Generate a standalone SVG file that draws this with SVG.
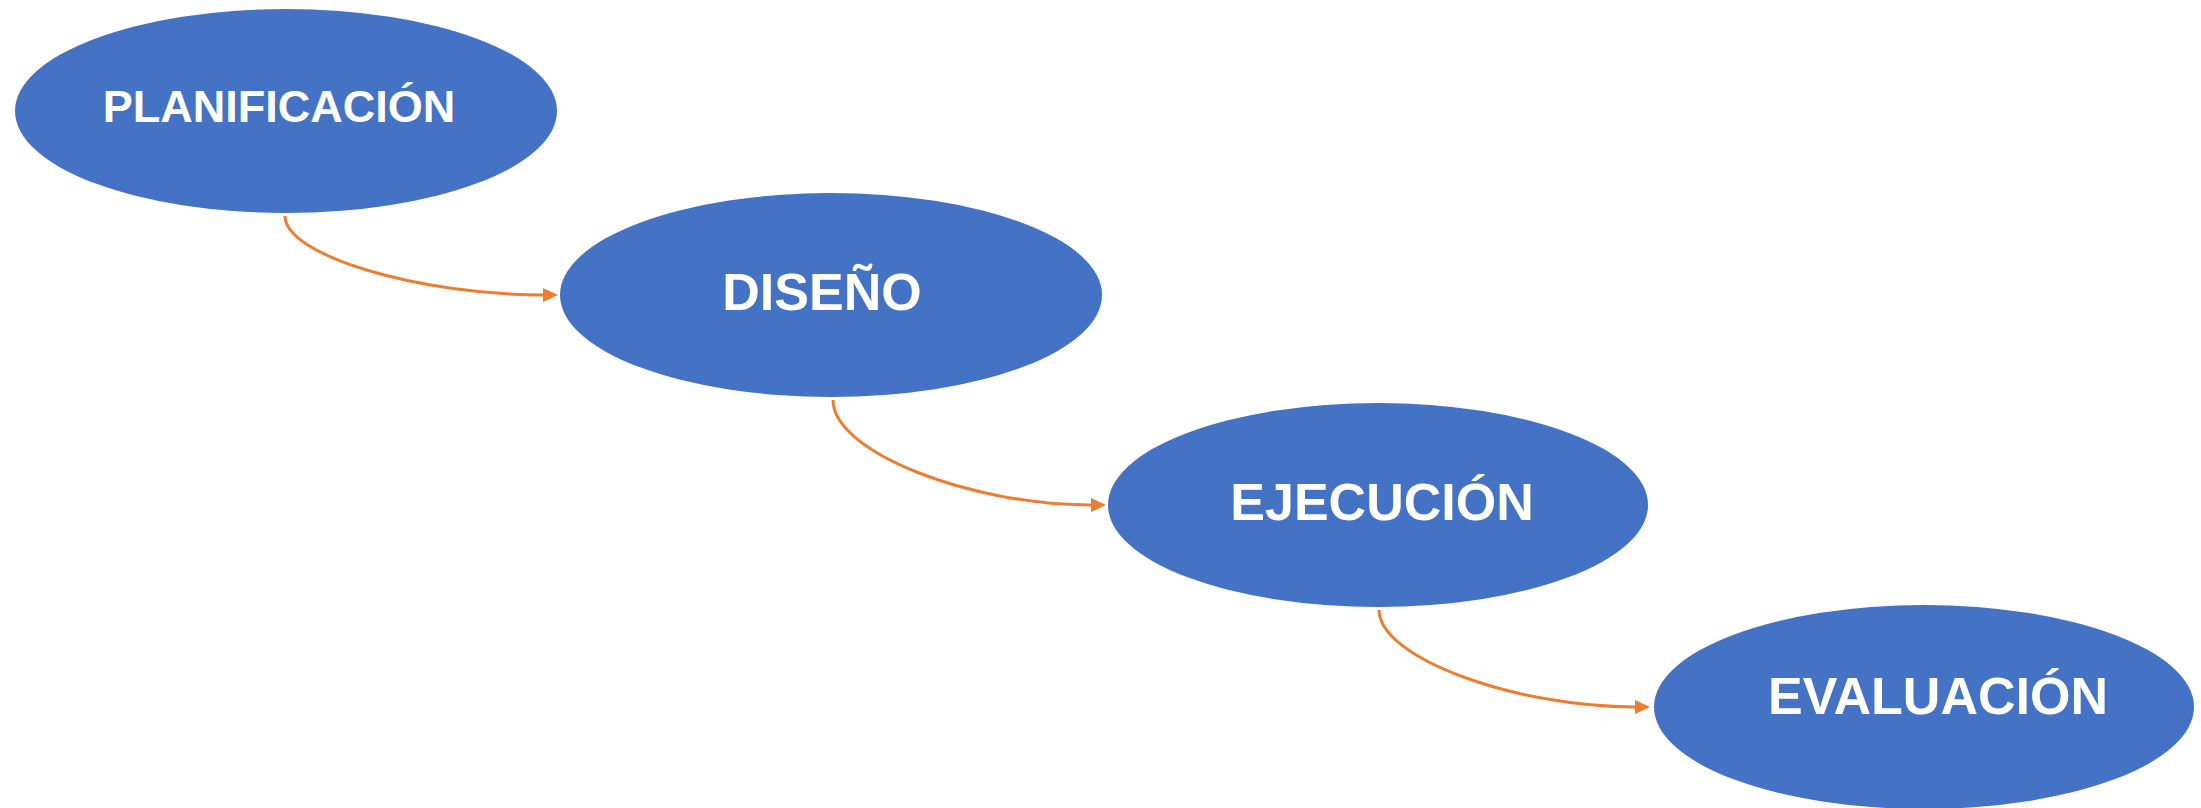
<svg xmlns="http://www.w3.org/2000/svg" width="2201" height="808" viewBox="0 0 2201 808">
  <style>
    .stage { fill: #4472C4; }
    .label { fill: #FFFFFF; font-family: "Liberation Sans", Arial, sans-serif; font-weight: bold; text-anchor: middle; }
    .link { fill: none; stroke: #ED7D31; stroke-width: 3; }
  </style>
  <defs>
    <marker id="arrow" markerUnits="userSpaceOnUse" markerWidth="16" markerHeight="16" refX="0" refY="7" orient="auto">
      <path d="M0,0 L15,7 L0,14 Z" fill="#ED7D31"/>
    </marker>
  </defs>

  <g id="planificacion">
    <ellipse class="stage" cx="286" cy="111" rx="271" ry="102"/>
    <text class="label" x="279" y="122" font-size="45">PLANIFICACIÓN</text>
  </g>

  <g id="diseno">
    <ellipse class="stage" cx="831" cy="295" rx="271" ry="102"/>
    <text class="label" x="822" y="310" font-size="52">DISEÑO</text>
  </g>

  <g id="ejecucion">
    <ellipse class="stage" cx="1378" cy="505" rx="270" ry="102"/>
    <text class="label" x="1382" y="520" font-size="52">EJECUCIÓN</text>
  </g>

  <g id="evaluacion">
    <ellipse class="stage" cx="1924" cy="707" rx="270" ry="102"/>
    <text class="label" x="1938" y="714" font-size="52">EVALUACIÓN</text>
  </g>

  <g id="connectors">
    <path class="link" marker-end="url(#arrow)" d="M285,216 C285,256 421,295 543,295"/>
    <path class="link" marker-end="url(#arrow)" d="M833,400 C833,452 970,505 1091,505"/>
    <path class="link" marker-end="url(#arrow)" d="M1379,610 C1379,658 1515,707 1635,707"/>
  </g>
</svg>
